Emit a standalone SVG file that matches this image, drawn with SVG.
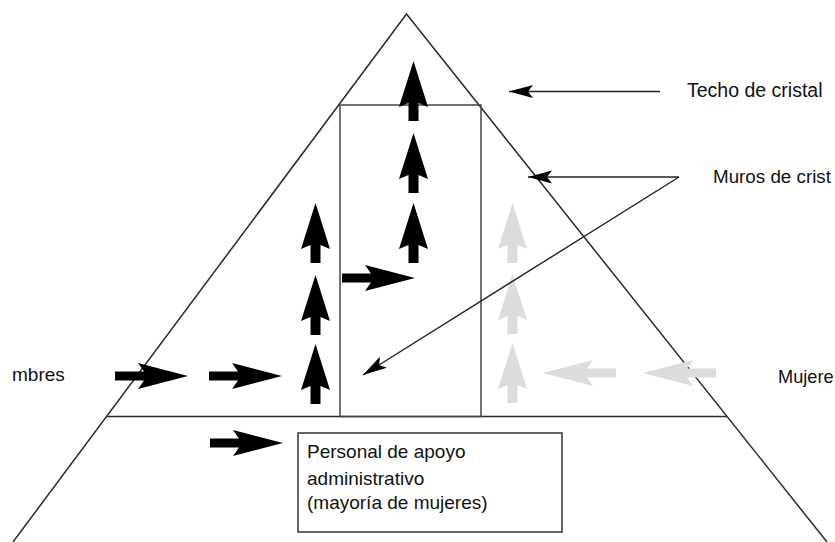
<svg xmlns="http://www.w3.org/2000/svg" width="835" height="542" viewBox="0 0 835 542">
  <style>
    .line { fill: none; stroke: #2a2a2a; stroke-width: 1.5; }
    .wall { fill: none; stroke: #444; stroke-width: 1.5; }
    .lbl { font-family: "Liberation Sans", Arial, sans-serif; fill: #111; }
    .blk { fill: #000; }
    .gry { fill: #dcdcdc; }
    .thin { fill: none; stroke: #222; stroke-width: 1.4; marker-end: url(#head); }
  </style>
  <defs>
    <path id="up" d="M0,0 L14.5,46 L5,42 L5,60 L-5,60 L-5,42 L-14.5,46 Z"/>
    <path id="right" d="M0,0 L-50,-13 L-44,-4.5 L-73,-4.5 L-73,4.5 L-44,4.5 L-50,13 Z"/>
    <marker id="head" viewBox="-25 -8 26 16" markerWidth="26" markerHeight="16" refX="0" refY="0" orient="auto" markerUnits="userSpaceOnUse">
      <path d="M0,0 L-24,-6.5 L-19,0 L-24,6.5 Z" fill="#000"/>
    </marker>
  </defs>
  <rect width="835" height="542" fill="#fff"/>

  <g id="pyramid">
    <polyline class="line" points="13,542 406.5,14 827,542"/>
    <line class="line" x1="107" y1="416.5" x2="727" y2="416.5"/>
  </g>

  <g id="glass-walls">
    <rect class="wall" x="340" y="105" width="141" height="311.5"/>
  </g>

  <g id="support-staff">
    <rect x="298" y="433" width="264" height="99" fill="#fff" stroke="#333" stroke-width="1.5"/>
    <text class="lbl" font-size="19" x="307" y="458">Personal de apoyo</text>
    <text class="lbl" font-size="19" x="307" y="485">administrativo</text>
    <text class="lbl" font-size="19" x="307" y="509">(mayoría de mujeres)</text>
  </g>

  <g id="label-techo">
    <text class="lbl" font-size="19.5" x="687" y="97">Techo de cristal</text>
  </g>
  <g id="label-muros">
    <text class="lbl" font-size="18.8" x="713" y="183">Muros de crist</text>
  </g>
  <g id="label-hombres">
    <text class="lbl" font-size="19" x="12" y="381">mbres</text>
  </g>
  <g id="label-mujeres">
    <text class="lbl" font-size="18.2" x="778" y="383">Mujere</text>
  </g>

  <g id="connectors">
    <!-- black block arrows -->
    <use href="#right" class="blk" x="188" y="376"/>
    <use href="#right" class="blk" x="282" y="376"/>
    <use href="#right" class="blk" x="283" y="443"/>
    <use href="#right" class="blk" x="415" y="278"/>
    <use href="#up" class="blk" x="315.5" y="203"/>
    <use href="#up" class="blk" x="315.5" y="275"/>
    <use href="#up" class="blk" x="315.5" y="344"/>
    <use href="#up" class="blk" x="413.5" y="61"/>
    <use href="#up" class="blk" x="413.5" y="133"/>
    <use href="#up" class="blk" x="413.5" y="203"/>
    <!-- grey block arrows -->
    <use href="#up" class="gry" x="512.5" y="203"/>
    <use href="#up" class="gry" x="512.5" y="274"/>
    <use href="#up" class="gry" x="512.5" y="343"/>
    <use href="#right" class="gry" transform="translate(543,373) rotate(180)"/>
    <use href="#right" class="gry" transform="translate(643,373) rotate(180)"/>
    <!-- thin pointer arrows -->
    <line class="thin" x1="660" y1="91.5" x2="509" y2="91.5"/>
    <line class="thin" x1="679" y1="177" x2="528" y2="177"/>
    <line class="thin" x1="679" y1="177" x2="363" y2="375"/>
  </g>
</svg>
